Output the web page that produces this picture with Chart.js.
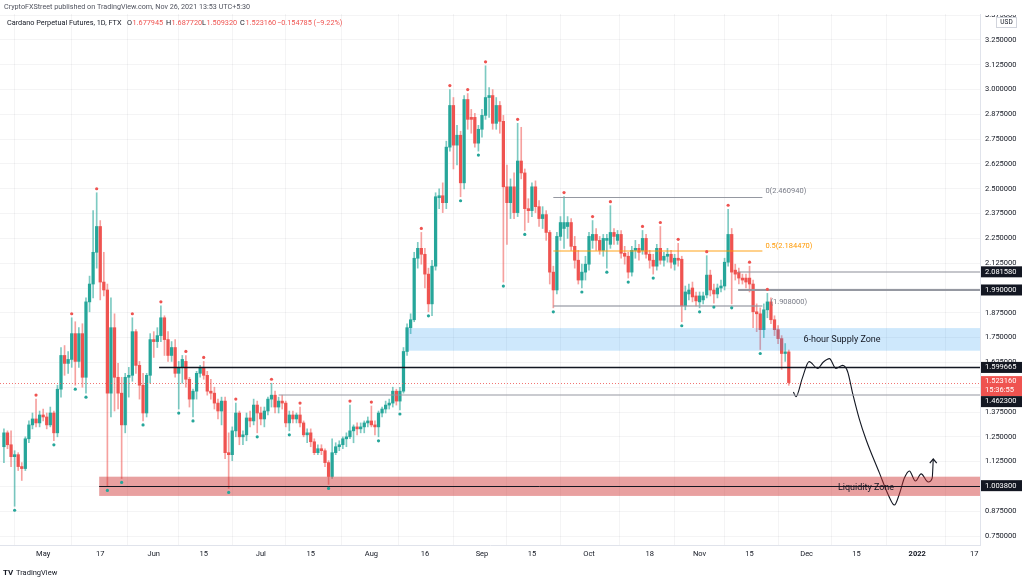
<!DOCTYPE html>
<html>
<head>
<meta charset="utf-8">
<script src="https://cdn.jsdelivr.net/npm/chart.js@4.4.0/dist/chart.umd.min.js"></script>
<style>
  html, body { margin: 0; padding: 0; background: #fff; }
</style>
</head>
<body>
<canvas id="chart" width="1024" height="580"></canvas>
<script>
// daily candles [open, high, low, close], Cardano perp (FTX)
const apr = [ // Apr 20 - 30
  [1.20,1.29,1.12,1.27],[1.27,1.28,1.19,1.21],[1.21,1.28,1.10,1.15],[1.15,1.18,0.90,1.16],
  [1.16,1.17,1.08,1.10],[1.10,1.12,1.03,1.09],[1.09,1.25,1.08,1.24],[1.24,1.33,1.22,1.31],
  [1.31,1.37,1.29,1.34],[1.34,1.44,1.30,1.32],[1.32,1.38,1.30,1.36]
];
const may = [
  [1.36,1.39,1.33,1.35],[1.35,1.37,1.29,1.31],[1.31,1.40,1.30,1.37],[1.37,1.38,1.23,1.27],
  [1.27,1.51,1.25,1.49],[1.49,1.70,1.45,1.66],[1.66,1.71,1.56,1.62],[1.62,1.68,1.57,1.64],
  [1.64,1.85,1.60,1.77],[1.77,1.83,1.51,1.63],[1.63,1.80,1.60,1.77],[1.77,1.82,1.50,1.55],
  [1.55,1.95,1.47,1.93],[1.93,2.06,1.88,2.02],[2.02,2.39,1.95,2.18],[2.18,2.48,2.10,2.31],
  [2.31,2.34,1.94,2.03],[2.03,2.18,1.96,1.99],[1.99,2.02,1.00,1.47],[1.47,1.95,1.35,1.80],
  [1.80,1.87,1.38,1.55],[1.55,1.62,1.39,1.47],[1.47,1.55,1.04,1.31],[1.31,1.57,1.27,1.55],
  [1.55,1.60,1.45,1.56],[1.56,1.85,1.53,1.78],[1.78,1.79,1.57,1.61],[1.61,1.63,1.44,1.51],
  [1.51,1.57,1.33,1.37],[1.37,1.57,1.35,1.56],[1.56,1.77,1.52,1.74]
];
const jun = [
  [1.74,1.78,1.65,1.73],[1.73,1.80,1.70,1.76],[1.76,1.91,1.73,1.85],[1.85,1.86,1.66,1.74],
  [1.74,1.78,1.63,1.66],[1.66,1.73,1.63,1.70],[1.70,1.74,1.55,1.57],[1.57,1.63,1.39,1.60],
  [1.60,1.66,1.52,1.64],[1.63,1.66,1.50,1.54],[1.54,1.55,1.40,1.44],[1.44,1.49,1.35,1.48],
  [1.48,1.58,1.44,1.57],[1.57,1.61,1.55,1.60],[1.60,1.63,1.54,1.56],[1.56,1.58,1.46,1.48],
  [1.48,1.54,1.44,1.47],[1.47,1.50,1.39,1.42],[1.42,1.44,1.34,1.38],[1.38,1.45,1.31,1.43],
  [1.43,1.45,1.14,1.17],[1.17,1.27,0.99,1.16],[1.16,1.30,1.13,1.28],[1.28,1.42,1.25,1.37],
  [1.37,1.38,1.21,1.25],[1.25,1.28,1.21,1.26],[1.26,1.37,1.23,1.345],[1.345,1.38,1.30,1.33],
  [1.33,1.44,1.31,1.41],[1.41,1.43,1.27,1.37]
];
const jul = [
  [1.37,1.40,1.31,1.34],[1.34,1.40,1.30,1.38],[1.38,1.45,1.36,1.44],[1.44,1.52,1.40,1.46],
  [1.46,1.48,1.37,1.40],[1.40,1.45,1.37,1.43],[1.43,1.46,1.39,1.42],[1.42,1.43,1.30,1.32],
  [1.32,1.38,1.28,1.36],[1.36,1.38,1.32,1.34],[1.34,1.37,1.32,1.36],[1.36,1.40,1.30,1.32],
  [1.32,1.33,1.25,1.26],[1.26,1.29,1.22,1.27],[1.27,1.29,1.20,1.225],[1.225,1.24,1.16,1.17],
  [1.17,1.21,1.16,1.19],[1.19,1.21,1.16,1.18],[1.18,1.19,1.10,1.12],[1.12,1.13,1.01,1.05],
  [1.05,1.24,1.04,1.17],[1.17,1.22,1.16,1.20],[1.20,1.23,1.18,1.21],[1.21,1.25,1.19,1.24],
  [1.24,1.27,1.20,1.25],[1.25,1.41,1.24,1.28],[1.28,1.31,1.22,1.30],[1.30,1.32,1.26,1.29],
  [1.29,1.32,1.27,1.30],[1.30,1.33,1.27,1.32],[1.32,1.35,1.30,1.33]
];
const aug = [
  [1.33,1.405,1.30,1.31],[1.31,1.33,1.26,1.30],[1.30,1.38,1.25,1.37],[1.37,1.40,1.35,1.39],
  [1.39,1.43,1.37,1.41],[1.41,1.44,1.39,1.42],[1.42,1.50,1.40,1.48],[1.48,1.49,1.41,1.43],
  [1.43,1.50,1.385,1.48],[1.48,1.70,1.47,1.68],[1.68,1.82,1.66,1.80],[1.80,1.87,1.77,1.84],
  [1.84,2.18,1.83,2.15],[2.15,2.23,2.10,2.20],[2.20,2.28,2.12,2.17],[2.17,2.20,2.00,2.07],
  [2.07,2.10,1.88,1.92],[1.92,2.14,1.86,2.11],[2.11,2.48,2.09,2.46],[2.455,2.50,2.40,2.465],
  [2.465,2.53,2.38,2.43],[2.43,2.74,2.40,2.71],[2.71,3.00,2.69,2.92],[2.92,2.96,2.60,2.72],
  [2.72,2.82,2.62,2.77],[2.77,2.79,2.46,2.53],[2.53,2.97,2.50,2.95],[2.95,2.98,2.80,2.85],
  [2.86,2.90,2.78,2.85],[2.86,2.88,2.71,2.73],[2.73,2.82,2.69,2.80]
];
const sep = [
  [2.80,2.90,2.76,2.87],[2.87,3.12,2.85,2.96],[2.96,3.01,2.86,2.97],[2.97,3.00,2.80,2.83],
  [2.83,2.96,2.80,2.92],[2.92,2.94,2.78,2.84],[2.84,2.87,2.03,2.51],[2.51,2.62,2.22,2.43],
  [2.43,2.55,2.35,2.51],[2.51,2.58,2.35,2.38],[2.38,2.83,2.36,2.64],[2.64,2.81,2.55,2.58],
  [2.58,2.60,2.29,2.40],[2.40,2.45,2.33,2.39],[2.39,2.53,2.36,2.51],[2.51,2.54,2.38,2.41],
  [2.41,2.44,2.31,2.35],[2.35,2.41,2.30,2.37],[2.37,2.39,2.24,2.28],[2.28,2.29,2.02,2.08],
  [2.08,2.11,1.90,1.99],[1.99,2.28,1.97,2.26],[2.26,2.36,2.24,2.33],[2.30,2.461,2.20,2.33],
  [2.31,2.36,2.25,2.33],[2.33,2.35,2.19,2.21],[2.21,2.26,2.10,2.14],[2.14,2.19,2.02,2.04],
  [2.04,2.12,2.00,2.08],[2.08,2.16,2.04,2.12]
];
const oct = [
  [2.12,2.28,2.09,2.26],[2.24,2.34,2.20,2.27],[2.27,2.30,2.19,2.24],[2.24,2.26,2.17,2.19],
  [2.19,2.27,2.16,2.25],[2.24,2.27,2.10,2.25],[2.22,2.415,2.20,2.28],[2.28,2.30,2.22,2.26],
  [2.24,2.29,2.22,2.27],[2.27,2.29,2.15,2.175],[2.175,2.21,2.12,2.16],[2.16,2.18,2.05,2.08],
  [2.08,2.21,2.06,2.19],[2.19,2.24,2.15,2.20],[2.20,2.22,2.14,2.18],[2.19,2.29,2.17,2.25],
  [2.25,2.27,2.15,2.17],[2.17,2.19,2.10,2.14],[2.14,2.17,2.07,2.11],[2.11,2.22,2.09,2.20],
  [2.20,2.31,2.12,2.14],[2.14,2.18,2.11,2.16],[2.16,2.20,2.13,2.17],[2.17,2.19,2.10,2.13],
  [2.12,2.17,2.09,2.15],[2.15,2.225,2.11,2.14],[2.145,2.16,1.83,1.91],[1.91,2.01,1.89,1.98],
  [1.97,2.02,1.94,1.99],[2.00,2.03,1.93,1.955],[1.96,1.98,1.91,1.935]
];
const nov = [ // Nov 1 - 26
  [1.93,1.98,1.90,1.96],[1.94,1.98,1.92,1.96],[1.965,2.163,1.95,2.065],[2.065,2.09,1.96,1.99],
  [1.99,2.02,1.924,1.97],[1.97,2.02,1.95,2.00],[2.00,2.04,1.98,2.01],[2.01,2.15,1.99,2.13],
  [2.13,2.397,2.11,2.27],[2.27,2.30,1.92,2.08],[2.09,2.12,2.04,2.07],[2.08,2.10,2.02,2.05],
  [2.05,2.07,2.02,2.04],[2.05,2.07,2.00,2.03],[2.05,2.11,1.98,2.02],[2.02,2.04,1.80,1.88],
  [1.88,1.92,1.78,1.87],[1.87,1.90,1.69,1.79],[1.79,1.92,1.75,1.89],[1.89,1.973,1.85,1.93],
  [1.93,1.95,1.82,1.84],[1.84,1.86,1.76,1.79],[1.79,1.81,1.72,1.745],[1.745,1.76,1.59,1.67],
  [1.67,1.72,1.63,1.677945],[1.677945,1.68772,1.50932,1.52316]
];
const firstDay = -11; // Apr 20, counted in days from May 1 2021

// pivot markers (days from May 1)
const pivotHighs = [-2,8,15,25,33,40,45,54,64,72,86,92,106,114,119,124,133,146,154,159,168,173,178,186,192,198,203];
const pivotLows = [-8,3,9,12,18,22,28,38,42,52,60,69,80,94,100,108,117,122,129,135,143,151,158,164,171,179,184,188,193,201];

// axis ticks
const xTickDays = [0,16,31,45,61,75,92,107,123,137,153,170,184,198,214,228,245,261];
const xTickLabels = ['May','17','Jun','15','Jul','15','Aug','16','Sep','15','Oct','18','Nov','15','Dec','15','2022','17'];
const yTicks = [0.75,0.875,1.0,1.125,1.25,1.375,1.5,1.625,1.75,1.875,2.0,2.125,2.25,2.375,2.5,2.625,2.75,2.875,3.0,3.125,3.25,3.375];

// hand drawn projection (day, price)
const projDays = [210.3,211.0,212.8,214.7,217.1,218.7,220.4,222.2,224.1,225.5,226.9,228.8,230.7,234.4,236.9,238.6,240.0,241.4,242.8,244.5,246.1,248.1,249.2,249.5];
const projPrices = [1.476,1.452,1.546,1.629,1.595,1.627,1.644,1.595,1.610,1.578,1.469,1.338,1.234,1.068,0.957,0.906,0.962,1.042,1.078,1.027,1.063,1.022,1.042,1.138];

// drawn levels
const fibLevels = [2.46094, 2.18447, 1.908];
const fibFrom = 143, fibTo = 201.6;
const supplyZone = [102.3, 1.798, 1.684];
const liquidityZone = [15.7, 1.049, 0.952];

const candles = [...apr, ...may, ...jun, ...jul, ...aug, ...sep, ...oct, ...nov];
const days = candles.map((c, i) => firstDay + i);
const green = '#26a69a', red = '#ef5350';
const upColor = candles.map(c => c[3] >= c[0] ? green : red);
const wickColor = candles.map(c => c[3] >= c[0] ? 'rgba(38,166,154,0.6)' : 'rgba(239,83,80,0.55)');
const last = candles[candles.length - 1];
const prevClose = candles[candles.length - 2][3];

const xMin = -12.1, xMax = 262.6;
const yMin = 0.7047, yMax = 3.381;
const font = 'Roboto';

const drawings = {
  id: 'drawings',
  afterDatasetsDraw(chart) {
    const { ctx, chartArea: a, scales: { x, y } } = chart;
    ctx.save();
    ctx.beginPath();
    ctx.rect(a.left, a.top, a.right - a.left, a.bottom - a.top);
    ctx.clip();

    const hline = (p, d0, d1, color, w, dash) => {
      const yy = Math.round(y.getPixelForValue(p)) + (w % 2 ? 0.5 : 0);
      ctx.strokeStyle = color; ctx.lineWidth = w;
      ctx.setLineDash(dash || []);
      ctx.beginPath();
      ctx.moveTo(d0 == null ? a.left : x.getPixelForValue(d0), yy);
      ctx.lineTo(d1 == null ? a.right : x.getPixelForValue(d1), yy);
      ctx.stroke();
      ctx.setLineDash([]);
    };
    const zone = (z, fill) => {
      const x0 = x.getPixelForValue(z[0]);
      const y1 = y.getPixelForValue(z[1]), y2 = y.getPixelForValue(z[2]);
      ctx.fillStyle = fill;
      ctx.fillRect(x0, y1, a.right - x0, y2 - y1);
    };

    // zones
    zone(supplyZone, 'rgba(33,150,243,0.22)');
    zone(liquidityZone, 'rgba(204,44,44,0.45)');
    hline(1.0038, liquidityZone[0], null, '#131722', 1);

    // fib retracement
    hline(fibLevels[0], fibFrom, fibTo, '#9598a1', 1);
    hline(fibLevels[1], fibFrom, fibTo, 'rgba(255,152,0,0.45)', 2);
    hline(fibLevels[2], fibFrom, fibTo, 'rgba(149,152,161,0.6)', 2);

    // horizontal levels
    hline(2.08158, 194.8, null, 'rgba(149,152,161,0.55)', 2);
    hline(1.99, 194.8, null, '#9598a1', 2);
    hline(1.599665, 32.5, null, '#131722', 1.5);
    hline(1.4623, 66, null, 'rgba(149,152,161,0.5)', 2);
    hline(last[3], null, null, 'rgba(239,83,80,0.8)', 1, [1, 2]);

    // pivot markers
    const dot = (d, p, off, color) => {
      ctx.fillStyle = color;
      ctx.beginPath();
      ctx.arc(x.getPixelForValue(d), y.getPixelForValue(p) + off, 1.6, 0, Math.PI * 2);
      ctx.fill();
    };
    pivotHighs.forEach(d => dot(d, candles[d - firstDay][1], -4, red));
    pivotLows.forEach(d => dot(d, candles[d - firstDay][2], 4, green));

    // arrow head on projection
    const tx = x.getPixelForValue(projDays[projDays.length - 1]);
    const ty = y.getPixelForValue(projPrices[projPrices.length - 1]);
    ctx.strokeStyle = '#131722'; ctx.lineWidth = 1.2;
    ctx.beginPath();
    ctx.moveTo(tx - 3.5, ty + 4); ctx.lineTo(tx, ty); ctx.lineTo(tx + 3.5, ty + 4);
    ctx.stroke();

    // texts
    ctx.textBaseline = 'middle';
    ctx.fillStyle = '#131722';
    ctx.font = `9px ${font}`;
    ctx.textAlign = 'center';
    ctx.fillText('6-hour Supply Zone', 842, y.getPixelForValue((supplyZone[1] + supplyZone[2]) / 2));
    ctx.fillText('Liquidity Zone', 866, y.getPixelForValue(0.9955));
    ctx.textAlign = 'left';
    ctx.font = `7.5px ${font}`;
    const fx = x.getPixelForValue(fibTo) + 3;
    ctx.fillStyle = '#787b86';
    ctx.fillText('0(2.460940)', fx, y.getPixelForValue(fibLevels[0]) - 5);
    ctx.fillStyle = '#ff9800';
    ctx.fillText('0.5(2.184470)', fx, y.getPixelForValue(fibLevels[1]) - 5);
    ctx.fillStyle = '#787b86';
    ctx.fillText('(1.908000)', fx + 5, y.getPixelForValue(fibLevels[2]) - 4);
    ctx.restore();
  },
  afterDraw(chart) {
    const { ctx, chartArea: a, scales: { y } } = chart;
    ctx.save();
    // clip the top of the price scale like the pane edge does
    ctx.fillStyle = '#fff';
    ctx.fillRect(a.right + 1, 0, chart.width - a.right, a.top + 1);
    ctx.textBaseline = 'middle';
    ctx.textAlign = 'left';
    ctx.font = `7.5px ${font}`;

    const box = (p, bg, lines, top, h) => {
      const yy = y.getPixelForValue(p);
      const t = top != null ? top : yy - 5.5;
      const hh = h || 11;
      ctx.fillStyle = bg;
      ctx.fillRect(a.right + 1, t, chart.width - a.right - 3, hh);
      ctx.fillStyle = '#fff';
      lines.forEach((s, i) => ctx.fillText(s, a.right + 5, t + 5.5 + i * 9));
    };
    box(2.08158, '#131722', ['2.081580']);
    box(1.99, '#131722', ['1.990000']);
    box(1.599665, '#131722', ['1.599665']);
    box(last[3], red, [last[3].toFixed(6), '15:36:55'], y.getPixelForValue(last[3]) - 6.5, 20);
    box(1.4623, '#131722', ['1.462300'], y.getPixelForValue(last[3]) + 13.5, 11);
    box(1.0038, '#131722', ['1.003800']);

    // USD badge
    ctx.fillStyle = '#fff';
    ctx.strokeStyle = '#d1d4dc';
    ctx.lineWidth = 1;
    ctx.fillRect(996.5, 17.5, 20, 10);
    ctx.strokeRect(996.5, 17.5, 20, 10);
    ctx.fillStyle = '#131722';
    ctx.font = `6.5px ${font}`;
    ctx.textAlign = 'center';
    ctx.fillText('USD', 1006.5, 22.8);

    // header
    ctx.textAlign = 'left';
    ctx.font = `7.2px ${font}`;
    ctx.fillStyle = '#50535e';
    ctx.fillText('CryptoFXStreet published on TradingView.com, Nov 26, 2021 13:53 UTC+5:30', 4, 7);

    ctx.font = `7.3px ${font}`;
    const chg = last[3] - prevClose;
    const segs = [
      [7, 'Cardano Perpetual Futures, 1D, FTX', '#131722'],
      [127, 'O', '#131722'], [132.5, last[0].toFixed(6), red],
      [166, 'H', '#131722'], [171.5, last[1].toFixed(6), red],
      [202, 'L', '#131722'], [206.5, last[2].toFixed(6), red],
      [240, 'C', '#131722'], [245.5, last[3].toFixed(6), red],
      [277, '\u2212' + Math.abs(chg).toFixed(6) + ' (\u2212' + Math.abs(chg / prevClose * 100).toFixed(2) + '%)', red]
    ];
    segs.forEach(([sx, s, c]) => { ctx.fillStyle = c; ctx.fillText(s, sx, 23); });

    // logo
    ctx.font = `bold 8px ${font}`;
    ctx.fillStyle = '#131722';
    ctx.fillText('TV', 3, 573);
    ctx.font = `7.5px ${font}`;
    ctx.fillText('TradingView', 16, 573);
    ctx.restore();
  }
};

new Chart(document.getElementById('chart'), {
  type: 'bar',
  data: {
    datasets: [
      {
        label: 'wick',
        data: candles.map((c, i) => ({ x: days[i], y: [c[2], c[1]] })),
        backgroundColor: wickColor,
        barThickness: 1,
        grouped: false,
        order: 3
      },
      {
        label: 'body',
        data: candles.map((c, i) => ({ x: days[i], y: [Math.min(c[0], c[3]), Math.max(c[0], c[3])] })),
        backgroundColor: upColor,
        barThickness: 2.6,
        minBarLength: 1,
        grouped: false,
        order: 2
      },
      {
        type: 'line',
        label: 'projection',
        data: projDays.map((d, i) => ({ x: d, y: projPrices[i] })),
        borderColor: '#131722',
        borderWidth: 1.1,
        pointRadius: 0,
        tension: 0.4,
        cubicInterpolationMode: 'monotone',
        order: 1
      }
    ]
  },
  options: {
    responsive: false,
    animation: false,
    layout: { padding: { top: 14, left: 0, right: 0, bottom: 0 } },
    plugins: { legend: { display: false }, tooltip: { enabled: false } },
    scales: {
      x: {
        type: 'linear',
        min: xMin, max: xMax,
        offset: false,
        grid: { color: 'rgba(42,46,57,0.05)', drawTicks: false },
        border: { display: true, color: '#e0e3eb' },
        afterBuildTicks: s => { s.ticks = xTickDays.map(v => ({ value: v })); },
        ticks: {
          autoSkip: false, maxRotation: 0, padding: 5,
          color: '#131722',
          font: c => ({ family: font, size: 7.5, weight: c.tick && c.tick.value === 245 ? 'bold' : 'normal' }),
          callback: (v, i) => xTickLabels[i]
        },
        afterFit: s => { s.height = 35; s.paddingLeft = 0; s.paddingRight = 0; }
      },
      y: {
        type: 'linear',
        position: 'right',
        min: yMin, max: yMax,
        grid: { color: 'rgba(42,46,57,0.05)', drawTicks: false },
        border: { display: true, color: '#e0e3eb' },
        afterBuildTicks: s => { s.ticks = yTicks.map(v => ({ value: v })); },
        ticks: {
          padding: 5,
          color: '#131722',
          font: { family: font, size: 7.5 },
          callback: v => v.toFixed(6)
        },
        afterFit: s => { s.width = 44; s.paddingTop = 0; s.paddingBottom = 0; }
      }
    }
  },
  plugins: [drawings]
});
</script>
</body>
</html>
